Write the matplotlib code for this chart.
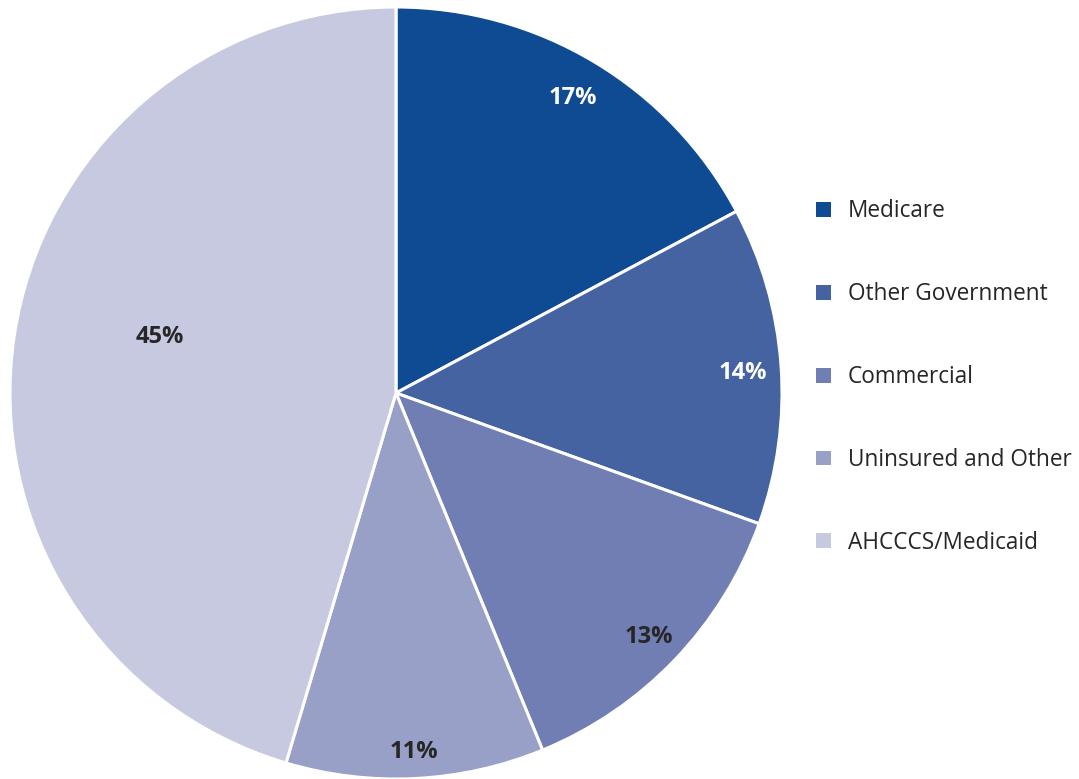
import numpy as np
import matplotlib
matplotlib.use("Agg")
import matplotlib.pyplot as plt

labels = ['Medicare', 'Other Government', 'Commercial', 'Uninsured and Other', 'AHCCCS/Medicaid']
values = [17.2, 13.3, 13.3, 10.8, 45.4]
pct_labels = ['17%', '14%', '13%', '11%', '45%']
colors = ['#0f4b92', '#4563a1', '#717eb3', '#99a0c8', '#c7c9e1']
text_colors = ['white', 'white', '#262626', '#262626', '#262626']

# label placement (fraction of radius, angular nudge in degrees)
label_dist = [0.89, 0.90, 0.91, 0.93, 0.63]
label_nudge = [0, -0.8, -0.3, 0, -5]

plt.rcParams['font.family'] = ['Open Sans', 'DejaVu Sans']

W, H = 1079, 779
fig = plt.figure(figsize=(W / 100, H / 100), dpi=100)
ax = fig.add_axes([0, 0, 1, 1])
ax.set_xlim(0, W)
ax.set_ylim(0, H)
ax.set_aspect('equal')
ax.axis('off')

cx, cy, r = 396, H - 393, 386
wedges, _ = ax.pie(values, colors=colors, startangle=90, counterclock=False,
                   center=(cx, cy), radius=r,
                   wedgeprops=dict(edgecolor='white', linewidth=2.2))

total = sum(values)
start = 90.0
for v, lab, d, nd, tc in zip(values, pct_labels, label_dist, label_nudge, text_colors):
    mid = np.deg2rad(start - v / total * 360 / 2 + nd)
    start -= v / total * 360
    ax.text(cx + d * r * np.cos(mid), cy + d * r * np.sin(mid), lab,
            ha='center', va='center', fontsize=17, fontweight='bold', color=tc)

ax.set_xlim(0, W)
ax.set_ylim(0, H)

leg = ax.legend(wedges, labels, loc='upper left', bbox_to_anchor=(796 / W, 1 - 179 / H),
                frameon=False, fontsize=16.3, labelspacing=2.6,
                handlelength=0.63, handleheight=0.63, handletextpad=0.76)
for t in leg.get_texts():
    t.set_color('#262626')
for h in leg.legend_handles:
    h.set_edgecolor('none')

fig.savefig('out.png', dpi=100)
